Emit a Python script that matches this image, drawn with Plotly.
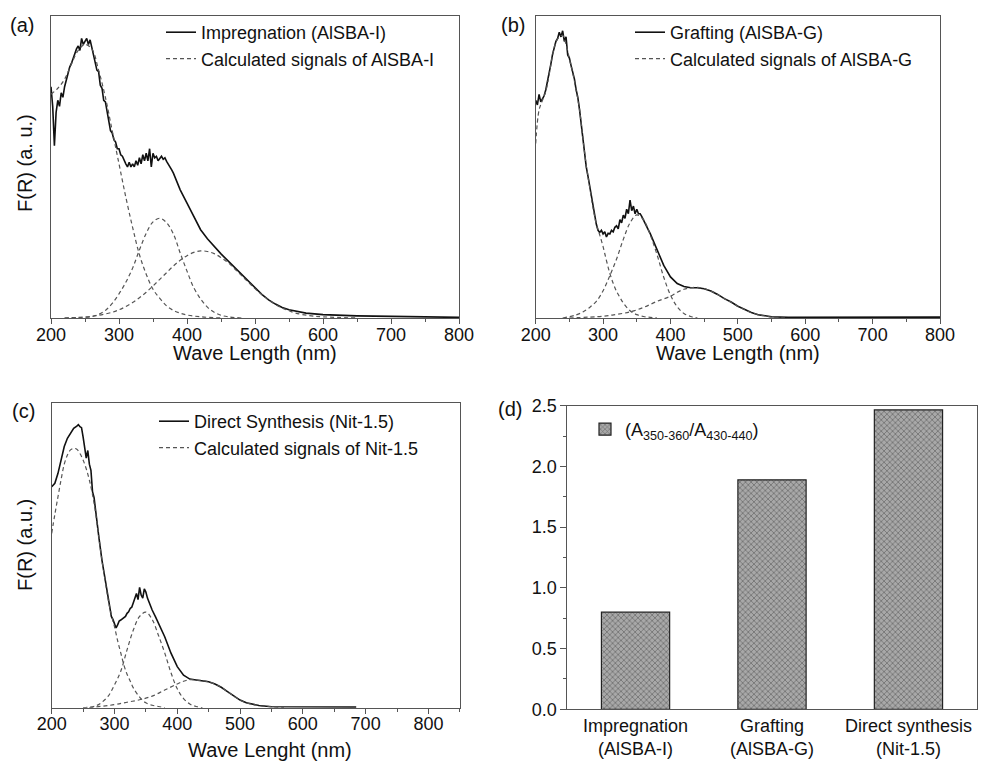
import plotly.graph_objects as go

# ---------------- Panel (a): Impregnation (AlSBA-I) ----------------
wl_a = [200, 202.5, 205, 207.5, 210, 212.5, 215, 217.5, 220, 222.5, 225, 227.5, 230, 232.5, 235, 237.5,
        240, 242.5, 245, 247.5, 250, 252.5, 255, 257.5, 260, 262.5, 265, 267.5, 270, 272.5, 275, 277.5,
        280, 282.5, 285, 287.5, 290, 292.5, 295, 297.5, 300, 302.5, 305, 307.5, 310, 312.5, 315, 317.5,
        320, 322.5, 325, 327.5, 330, 332.5, 335, 337.5, 340, 342.5, 345, 347.5, 350, 352.5, 355, 357.5,
        360, 362.5, 365, 367.5, 370, 372.5, 375, 377.5, 380, 390, 400, 410, 420, 430, 440, 450, 460, 470,
        480, 490, 500, 510, 520, 530, 540, 550, 575, 600, 650, 700, 750, 800]
fr_a = [0.765, 0.70, 0.57, 0.68, 0.72, 0.70, 0.745, 0.73, 0.765, 0.79, 0.815, 0.83, 0.842, 0.86, 0.87, 0.89,
        0.9, 0.885, 0.925, 0.905, 0.915, 0.925, 0.905, 0.92, 0.895, 0.87, 0.855, 0.82, 0.815, 0.77, 0.76, 0.72,
        0.715, 0.68, 0.66, 0.62, 0.612, 0.59, 0.582, 0.56, 0.56, 0.54, 0.535, 0.52, 0.51, 0.5, 0.515, 0.5,
        0.51, 0.5, 0.52, 0.505, 0.53, 0.51, 0.54, 0.52, 0.545, 0.52, 0.56, 0.5, 0.545, 0.53, 0.535, 0.52,
        0.53, 0.535, 0.525, 0.53, 0.518, 0.51, 0.5, 0.49, 0.479, 0.424, 0.38, 0.336, 0.292, 0.262, 0.236, 0.212, 0.19, 0.168,
        0.146, 0.122, 0.099, 0.078, 0.06, 0.046, 0.035, 0.027, 0.016, 0.011, 0.007, 0.005, 0.003, 0.002]
wl_a_c1 = [200, 210, 220, 230, 240, 250, 260, 270, 280, 290, 300, 310, 320, 330, 340, 350, 360, 370, 380, 390, 400, 420, 450]
fr_a_c1 = [0.74, 0.76, 0.79, 0.84, 0.885, 0.905, 0.89, 0.82, 0.73, 0.62, 0.51, 0.40, 0.30, 0.21, 0.145, 0.095, 0.065, 0.04, 0.025, 0.016, 0.01, 0.004, 0.0]
wl_a_c2 = [220, 240, 260, 270, 280, 290, 300, 310, 320, 330, 340, 350, 360, 370, 380, 390, 400, 410, 420, 430, 440, 450, 460, 480]
fr_a_c2 = [0.0, 0.002, 0.005, 0.012, 0.025, 0.048, 0.08, 0.118, 0.165, 0.225, 0.28, 0.318, 0.33, 0.315, 0.278, 0.215, 0.155, 0.1, 0.063, 0.036, 0.019, 0.009, 0.004, 0.0]
wl_a_c3 = [220, 250, 270, 290, 300, 310, 320, 330, 340, 350, 360, 370, 380, 390, 400, 410, 420, 430, 440, 450, 460, 470,
           480, 490, 500, 510, 520, 530, 540, 550, 560, 580, 600, 650]
fr_a_c3 = [0.0, 0.003, 0.009, 0.019, 0.027, 0.038, 0.051, 0.067, 0.085, 0.106, 0.128, 0.15, 0.172, 0.191, 0.206, 0.217, 0.222, 0.22, 0.213, 0.2, 0.184, 0.163,
           0.141, 0.119, 0.097, 0.078, 0.06, 0.045, 0.033, 0.024, 0.016, 0.008, 0.004, 0.0]

# ---------------- Panel (b): Grafting (AlSBA-G) ----------------
wl_b = [200, 202.5, 205, 207.5, 210, 212.5, 215, 217.5, 220, 222.5, 225, 227.5, 230, 232.5, 235, 237.5,
        240, 242.5, 245, 247.5, 250, 252.5, 255, 257.5, 260, 262.5, 265, 267.5, 270, 272.5, 275, 277.5,
        280, 282.5, 285, 287.5, 290, 292.5, 295, 297.5, 300, 302.5, 305, 307.5, 310, 312.5, 315, 317.5,
        320, 322.5, 325, 327.5, 330, 332.5, 335, 337.5, 340, 342.5, 345, 347.5, 350, 352.5, 355, 357.5,
        360, 362.5, 365, 367.5, 370, 380, 390, 400, 410, 420, 430, 440, 450, 460, 470, 480, 490, 500,
        510, 520, 530, 540, 550, 575, 600, 700, 800]
fr_b = [0.72, 0.705, 0.74, 0.715, 0.725, 0.735, 0.755, 0.78, 0.81, 0.84, 0.872, 0.895, 0.915, 0.925, 0.945, 0.93,
        0.95, 0.915, 0.93, 0.87, 0.86, 0.835, 0.815, 0.79, 0.755, 0.73, 0.69, 0.64, 0.59, 0.545, 0.5, 0.47,
        0.435, 0.4, 0.37, 0.335, 0.31, 0.29, 0.283, 0.29, 0.278, 0.285, 0.268, 0.28, 0.278, 0.29, 0.285, 0.3,
        0.305, 0.295, 0.325, 0.315, 0.34, 0.33, 0.36, 0.345, 0.39, 0.355, 0.37, 0.345, 0.36, 0.345, 0.345, 0.335,
        0.325, 0.315, 0.302, 0.29, 0.279, 0.224, 0.174, 0.136, 0.114, 0.104, 0.1, 0.1, 0.097, 0.089, 0.078, 0.064, 0.053, 0.039,
        0.028, 0.018, 0.011, 0.007, 0.004, 0.002, 0.002, 0.002, 0.003]
wl_b_c1 = [200, 205, 210, 215, 220, 225, 230, 235, 240, 245, 250, 255, 260, 265, 270, 275, 280, 285, 290, 295,
           300, 305, 310, 315, 320, 325, 330, 340, 350, 360, 370, 380]
fr_b_c1 = [0.577, 0.688, 0.72, 0.75, 0.805, 0.87, 0.912, 0.93, 0.935, 0.905, 0.858, 0.81, 0.755, 0.69, 0.595, 0.505, 0.435, 0.365, 0.31, 0.275,
           0.236, 0.19, 0.148, 0.115, 0.088, 0.068, 0.05, 0.024, 0.011, 0.005, 0.002, 0.0]
wl_b_c2 = [240, 260, 270, 280, 290, 300, 310, 320, 330, 340, 350, 360, 370, 380, 390, 400, 410, 420, 430, 440]
fr_b_c2 = [0.0, 0.01, 0.02, 0.035, 0.055, 0.09, 0.14, 0.195, 0.26, 0.315, 0.341, 0.325, 0.275, 0.21, 0.135, 0.076, 0.037, 0.015, 0.005, 0.0]
wl_b_c3 = [250, 300, 320, 340, 360, 380, 400, 410, 420, 430, 440, 450, 460, 470, 480, 490, 500, 510, 520, 530, 540, 550, 570]
fr_b_c3 = [0.0, 0.006, 0.012, 0.02, 0.035, 0.055, 0.072, 0.085, 0.095, 0.1, 0.101, 0.097, 0.089, 0.078, 0.064, 0.052, 0.039, 0.028, 0.018, 0.011, 0.007, 0.003, 0.0]

# ---------------- Panel (c): Direct Synthesis (Nit-1.5) ----------------
wl_c = [200, 205, 210, 215, 220, 225, 230, 235, 240, 242.5, 245, 247.5, 250, 252.5, 255, 257.5, 260, 262.5,
        265, 267.5, 270, 275, 280, 285, 290, 295, 297.5, 300, 302.5, 305, 307.5, 310, 312.5, 315, 317.5, 320,
        322.5, 325, 327.5, 330, 332.5, 335, 337.5, 340, 342.5, 345, 347.5, 350, 352.5, 355, 357.5, 360, 365,
        370, 375, 380, 390, 400, 410, 420, 430, 440, 450, 460, 470, 480, 490, 500, 510, 520, 530, 550, 600, 650, 685]
fr_c = [0.726, 0.737, 0.77, 0.814, 0.858, 0.885, 0.901, 0.918, 0.925, 0.93, 0.923, 0.92, 0.89, 0.86, 0.82, 0.845, 0.8, 0.78,
        0.71, 0.69, 0.64, 0.562, 0.485, 0.42, 0.355, 0.3, 0.29, 0.275, 0.262, 0.272, 0.285, 0.288, 0.292, 0.295, 0.3, 0.31,
        0.315, 0.326, 0.33, 0.345, 0.36, 0.375, 0.355, 0.395, 0.37, 0.36, 0.39, 0.38, 0.36, 0.345, 0.335, 0.321, 0.3,
        0.277, 0.255, 0.233, 0.179, 0.135, 0.107, 0.094, 0.091, 0.089, 0.085, 0.078, 0.067, 0.053, 0.038, 0.025, 0.016, 0.011, 0.007, 0.003, 0.002, 0.002, 0.002]
wl_c_c1 = [200, 205, 210, 215, 220, 225, 230, 235, 240, 245, 250, 255, 260, 265, 270, 275, 280, 285, 290, 295,
           300, 305, 310, 315, 320, 325, 330, 340, 350, 360, 370, 380]
fr_c_c1 = [0.573, 0.635, 0.693, 0.75, 0.8, 0.83, 0.847, 0.852, 0.849, 0.835, 0.814, 0.785, 0.748, 0.7, 0.639, 0.562, 0.485, 0.42, 0.355, 0.305,
           0.266, 0.22, 0.18, 0.14, 0.11, 0.088, 0.065, 0.035, 0.016, 0.008, 0.004, 0.0]
wl_c_c2 = [250, 270, 280, 290, 300, 310, 320, 330, 340, 350, 360, 370, 380, 390, 400, 410, 420, 430, 440]
fr_c_c2 = [0.0, 0.006, 0.018, 0.038, 0.075, 0.12, 0.19, 0.255, 0.3, 0.314, 0.29, 0.238, 0.18, 0.115, 0.062, 0.03, 0.012, 0.004, 0.0]
wl_c_c3 = [260, 300, 320, 340, 360, 380, 400, 410, 420, 430, 440, 450, 460, 470, 480, 490, 500, 510, 520, 530, 550, 570]
fr_c_c3 = [0.0, 0.01, 0.018, 0.026, 0.038, 0.058, 0.078, 0.087, 0.092, 0.091, 0.089, 0.085, 0.078, 0.067, 0.053, 0.038, 0.025, 0.016, 0.011, 0.007, 0.003, 0.0]

# ---------------- Panel (d): ratio bars ----------------
bar_categories = ["Impregnation<br>(AlSBA-I)", "Grafting<br>(AlSBA-G)", "Direct synthesis<br>(Nit-1.5)"]
bar_values = [0.80, 1.89, 2.465]

FONT = "Liberation Sans, Arial, Helvetica, sans-serif"
INK = "#111111"
FRAME = "#555555"
DASH_COL = "#555555"

fig = go.Figure()

def add_panel(xa, ya, legend, wl, fr, comps, name_solid, name_dash):
    fig.add_trace(go.Scatter(x=wl, y=fr, mode="lines", name=name_solid,
                             line=dict(color=INK, width=1.6), xaxis=xa, yaxis=ya, legend=legend))
    for i, (cw, cf) in enumerate(comps):
        fig.add_trace(go.Scatter(x=cw, y=cf, mode="lines", name=name_dash, line_shape="spline",
                                 line=dict(color=DASH_COL, width=1.2, dash="4px,3px"),
                                 xaxis=xa, yaxis=ya, legend=legend, showlegend=(i == 0)))

add_panel("x", "y", "legend", wl_a, fr_a, [(wl_a_c1, fr_a_c1), (wl_a_c2, fr_a_c2), (wl_a_c3, fr_a_c3)],
          "Impregnation (AlSBA-I)", "Calculated signals of AlSBA-I")
add_panel("x2", "y2", "legend2", wl_b, fr_b, [(wl_b_c1, fr_b_c1), (wl_b_c2, fr_b_c2), (wl_b_c3, fr_b_c3)],
          "Grafting (AlSBA-G)", "Calculated signals of AlSBA-G")
add_panel("x3", "y3", "legend3", wl_c, fr_c, [(wl_c_c1, fr_c_c1), (wl_c_c2, fr_c_c2), (wl_c_c3, fr_c_c3)],
          "Direct Synthesis (Nit-1.5)", "Calculated signals of Nit-1.5")

fig.add_trace(go.Bar(x=bar_categories, y=bar_values, width=0.5,
                     name="(A<sub>350-360</sub>/A<sub>430-440</sub>)",
                     marker=dict(color="#a0a0a0", line=dict(color="#222222", width=1.2),
                                 pattern=dict(shape="x", fgcolor="#333333", bgcolor="#a8a8a8",
                                              size=4, solidity=0.35)),
                     xaxis="x4", yaxis="y4", legend="legend4", showlegend=True))

W, H = 999, 763
def px_x(p):
    return p / W
def px_y(p):
    return 1 - p / H

spec_x = dict(showline=True, mirror=True, linecolor=FRAME, linewidth=1, showgrid=False, zeroline=False,
              ticks="outside", ticklen=5, tickwidth=1, tickcolor=FRAME, automargin=False,
              ticklabelstandoff=-5,
              tickfont=dict(size=18, color=INK, family=FONT),
              minor=dict(ticks="outside", ticklen=3, tickcolor=FRAME, showgrid=False))
spec_y = dict(showline=True, mirror=True, linecolor=FRAME, linewidth=1, showgrid=False, zeroline=False,
              showticklabels=False, ticks="", range=[0, 1], automargin=False)

fig.update_layout(
    xaxis=dict(domain=[px_x(51), px_x(459)], anchor="y", range=[200, 800], tick0=200, dtick=100,
               minor_dtick=50, **spec_x),
    yaxis=dict(domain=[px_y(318), px_y(15.7)], anchor="x", **spec_y),
    xaxis2=dict(domain=[px_x(535.7), px_x(940)], anchor="y2", range=[200, 800], tick0=200, dtick=100,
                minor_dtick=50, **spec_x),
    yaxis2=dict(domain=[px_y(318), px_y(15.7)], anchor="x2", **spec_y),
    xaxis3=dict(domain=[px_x(51.7), px_x(459.8)], anchor="y3", range=[200, 850], tick0=200, dtick=100,
                minor_dtick=50, **spec_x),
    yaxis3=dict(domain=[px_y(707.7), px_y(403.3)], anchor="x3", **spec_y),
    xaxis4=dict(domain=[px_x(567.3), px_x(976.7)], anchor="y4", range=[-0.5, 2.5], showline=True, mirror=True,
                linecolor=FRAME, linewidth=1, showgrid=False, zeroline=False, ticks="", automargin=False,
                tickfont=dict(size=18, color=INK, family=FONT)),
    yaxis4=dict(domain=[px_y(709.3), px_y(405.7)], anchor="x4", range=[0, 2.5], dtick=0.5, tickformat=".1f",
                showline=True, mirror=True, linecolor=FRAME, linewidth=1, showgrid=False, zeroline=False,
                ticks="outside", ticklen=6, tickcolor=FRAME, automargin=False,
                tickfont=dict(size=18, color=INK, family=FONT),
                minor=dict(ticks="outside", ticklen=3, dtick=0.25, tickcolor=FRAME, showgrid=False)),
)

leg_common = dict(xanchor="left", yanchor="top", bgcolor="rgba(0,0,0,0)", borderwidth=0,
                  font=dict(size=18, color=INK, family=FONT), tracegroupgap=0, itemwidth=30)
fig.update_layout(
    legend=dict(x=px_x(161), y=px_y(14), **leg_common),
    legend2=dict(x=px_x(630), y=px_y(14), **leg_common),
    legend3=dict(x=px_x(154), y=px_y(403), **leg_common),
    legend4=dict(x=px_x(585), y=px_y(411), **leg_common),
)

ann = []
def text(x, y, s, size=20, angle=0):
    ann.append(dict(x=px_x(x), y=px_y(y), xref="paper", yref="paper", text=s, showarrow=False,
                    textangle=angle, font=dict(size=size, color=INK, family=FONT),
                    xanchor="center", yanchor="middle"))

text(22, 25, "(a)")
text(513, 25, "(b)")
text(23, 411, "(c)")
text(510, 409, "(d)")
text(25, 163, "F(R) (a. u.)", angle=-90)
text(25, 545, "F(R) (a.u.)", angle=-90)
text(255, 353, "Wave Length (nm)")
text(738, 353, "Wave Length (nm)")
text(270, 750, "Wave Lenght (nm)")

fig.update_layout(annotations=ann, width=W, height=H,
                  margin=dict(l=0, r=0, t=0, b=0, pad=0, autoexpand=False),
                  paper_bgcolor="white", plot_bgcolor="white",
                  font=dict(family=FONT, color=INK), showlegend=True)

fig.write_html("out.html", config={"displayModeBar": False},
               post_script="document.body.style.margin='0px';document.body.style.overflow='hidden';")
